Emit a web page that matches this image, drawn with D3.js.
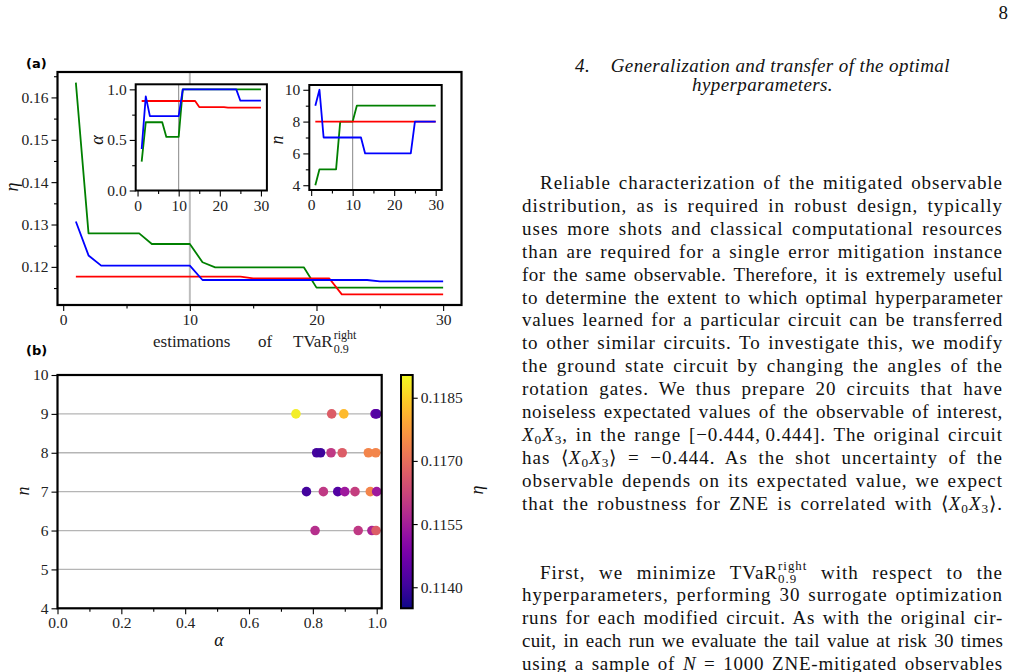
<!DOCTYPE html>
<html>
<head>
<meta charset="utf-8">
<script src="https://cdn.jsdelivr.net/npm/d3@7"></script>
<style>
body { margin: 0; background: #fff; width: 1017px; height: 672px; overflow: hidden; position: relative; font-family: "Liberation Serif", serif; }
svg { position: absolute; left: 0; top: 0; }
.ln { position: absolute; left: 522px; width: 481px; white-space: nowrap; text-align: justify; text-align-last: justify; font-size: 19px; line-height: 23px; color: #111; }
.hd { position: absolute; left: 522px; width: 481px; text-align: center; font-style: italic; font-size: 19px; line-height: 23px; color: #111; white-space: nowrap; letter-spacing: 0.4px; }
.ln sub { font-size: 0.7em; vertical-align: -0.25em; line-height: 0; }
.ss { display: inline-block; font-size: 0.68em; line-height: 1.0em; vertical-align: -0.32em; text-align: left; text-align-last: left; }
.ss span { display: block; }
</style>
</head>
<body>
<script>
// iterations of the optimisation
var runs = [1,2,3,4,5,6,7,8,9,10,11,12,13,14,15,16,17,18,19,20,21,22,23,24,25,26,27,28,29,30];

// best eta found so far, three runs
var etaGreen = [0.1635,0.1279,0.1279,0.1279,0.1279,0.1279,0.1254,0.1254,0.1254,0.1254,
                0.1211,0.1199,0.1199,0.1199,0.1199,0.1199,0.1199,0.1199,0.1199,0.1151,
                0.1151,0.1151,0.1151,0.1151,0.1151,0.1151,0.1151,0.1151,0.1151,0.1151];
var etaRed   = [0.1177,0.1177,0.1177,0.1177,0.1177,0.1177,0.1177,0.1177,0.1177,0.1177,
                0.1177,0.1177,0.1177,0.1177,0.1173,0.1173,0.1173,0.1173,0.1173,0.1173,
                0.1173,0.1135,0.1135,0.1135,0.1135,0.1135,0.1135,0.1135,0.1135,0.1135];
var etaBlue  = [0.1307,0.1227,0.1203,0.1203,0.1203,0.1203,0.1203,0.1203,0.1203,0.1203,
                0.1169,0.1169,0.1169,0.1169,0.1169,0.1169,0.1169,0.1169,0.1169,0.1169,
                0.1169,0.1169,0.1169,0.1169,0.1166,0.1166,0.1166,0.1166,0.1166,0.1166];

// alpha of the best point
var alphaGreen = [0.286,0.675,0.675,0.675,0.675,0.675,0.53,0.53,0.53,0.53,
                  1,1,1,1,1,1,1,1,1,1,1,1,1,1,1,1,1,1,1,1];
var alphaRed   = [0.885,0.885,0.885,0.885,0.885,0.885,0.885,0.885,0.885,0.885,
                  0.885,0.885,0.885,0.885,0.825,0.825,0.825,0.825,0.825,0.825,
                  0.825,0.82,0.82,0.82,0.82,0.82,0.82,0.82,0.82,0.82];
var alphaBlue  = [0.41,0.93,0.735,0.735,0.735,0.735,0.735,0.735,0.735,0.735,
                  1,1,1,1,1,1,1,1,1,1,1,1,1,1,0.888,0.888,0.888,0.888,0.888,0.888];

// n of the best point
var nGreen = [4,5,5,5,5,5,8,8,8,8,9,9,9,9,9,9,9,9,9,9,9,9,9,9,9,9,9,9,9,9];
var nRed   = [8,8,8,8,8,8,8,8,8,8,8,8,8,8,8,8,8,8,8,8,8,8,8,8,8,8,8,8,8,8];
var nBlue  = [9,10,7,7,7,7,7,7,7,7,7,7,6,6,6,6,6,6,6,6,6,6,6,6,8,8,8,8,8,8];

// panel (b): final points of the runs
var scAlpha = [0.747,0.859,0.897,0.995,1.0,
               0.812,0.824,0.857,0.892,0.974,0.997,
               0.780,0.833,0.878,0.900,0.932,0.980,1.0,
               0.807,0.942,0.985,0.998];
var scN     = [9,9,9,9,9,
               8,8,8,8,8,8,
               7,7,7,7,7,7,7,
               6,6,6,6];
var scEta   = [0.1189,0.1167,0.1182,0.1146,0.1143,
               0.1141,0.1140,0.1160,0.1167,0.1174,0.1174,
               0.1141,0.1160,0.1143,0.1154,0.1161,0.1174,0.1154,
               0.1158,0.1160,0.1156,0.1167];

// tick labels
var etaTicks = [0.12,0.13,0.14,0.15,0.16];
var etaMinor = [0.115,0.125,0.135,0.145,0.155,0.165];
var runTicks = [0,10,20,30];
var runMinor = [5,15,25];
var alphaInTicks = [0,0.5,1];
var nInTicks = [4,6,8,10];
var nInMinor = [5,7,9];
var bAlphaTicks = [0,0.2,0.4,0.6,0.8,1];
var bAlphaMinor = [0.1,0.3,0.5,0.7,0.9];
var bNTicks = [4,5,6,7,8,9,10];
var cbTicks = [0.114,0.1155,0.117,0.1185];

var serif = "Liberation Serif, serif";
var svg = d3.select("body").append("svg").attr("width", 1017).attr("height", 672);

function styleAxis(sel) {
  sel.select(".domain").remove();
  sel.selectAll("line").attr("stroke", "#000").attr("stroke-width", 1.1);
  sel.selectAll("text").attr("font-family", serif).attr("font-size", "15.5px").attr("fill", "#222");
}

function drawAxes(g, box, x, y, o) {
  g.append("g").attr("transform", "translate(0," + box.b + ")")
    .call(d3.axisBottom(x).tickValues(o.xt).tickFormat(o.xf).tickSize(6).tickPadding(3)).call(styleAxis);
  if (o.xm) g.append("g").attr("transform", "translate(0," + box.b + ")")
    .call(d3.axisBottom(x).tickValues(o.xm).tickFormat("").tickSize(3.5)).call(styleAxis);
  g.append("g").attr("transform", "translate(" + box.l + ",0)")
    .call(d3.axisLeft(y).tickValues(o.yt).tickFormat(o.yf).tickSize(6).tickPadding(3)).call(styleAxis);
  if (o.ym) g.append("g").attr("transform", "translate(" + box.l + ",0)")
    .call(d3.axisLeft(y).tickValues(o.ym).tickFormat("").tickSize(3.5)).call(styleAxis);
}

function drawFrame(g, box, w) {
  g.append("rect").attr("x", box.l).attr("y", box.t)
    .attr("width", box.r - box.l).attr("height", box.b - box.t)
    .attr("fill", "none").attr("stroke", "#000").attr("stroke-width", w);
}

function lineSeries(g, x, y, xs, ys, color) {
  var line = d3.line().x(function(d) { return x(d[0]); }).y(function(d) { return y(d[1]); });
  g.append("path").datum(d3.zip(xs, ys))
    .attr("fill", "none").attr("stroke", color).attr("stroke-width", 1.8)
    .attr("stroke-linejoin", "round").attr("d", line);
}

function rotLabel(g, x, y, txt, size) {
  g.append("text").attr("transform", "translate(" + x + "," + y + ") rotate(-90)")
    .attr("text-anchor", "middle").attr("dy", "0.35em")
    .attr("font-family", serif).attr("font-style", "italic").attr("font-size", size)
    .attr("fill", "#111").text(txt);
}

// ---------- panel (a) ----------
var boxA = {l: 57.5, r: 461.5, t: 72, b: 305};
var xA = d3.scaleLinear().domain([-0.45, 31.45]).range([boxA.l, boxA.r]);
var yA = d3.scaleLinear().domain([0.111, 0.166]).range([boxA.b, boxA.t]);
var gA = svg.append("g");

gA.append("line").attr("x1", xA(10)).attr("x2", xA(10)).attr("y1", boxA.t).attr("y2", boxA.b)
  .attr("stroke", "#bdbdbd").attr("stroke-width", 2);
lineSeries(gA, xA, yA, runs, etaGreen, "#008000");
lineSeries(gA, xA, yA, runs, etaRed, "#ff0000");
lineSeries(gA, xA, yA, runs, etaBlue, "#0000ff");
drawAxes(gA, boxA, xA, yA, {xt: runTicks, xf: d3.format("d"), xm: runMinor,
                            yt: etaTicks, yf: d3.format(".2f"), ym: etaMinor});
drawFrame(gA, boxA, 2.2);
rotLabel(gA, 12, 187, "η", "18px");

// x label: estimations of TVaR^right_0.9
var xl = gA.append("g").attr("font-family", serif).attr("fill", "#222");
xl.append("text").attr("x", 153).attr("y", 347).attr("font-size", "17px").text("estimations");
xl.append("text").attr("x", 258).attr("y", 347).attr("font-size", "17px").text("of");
var tv = xl.append("text").attr("x", 293).attr("y", 347).attr("font-size", "17px").text("TVaR");
var tvEnd = 293 + tv.node().getComputedTextLength() + 1;
xl.append("text").attr("x", tvEnd).attr("y", 339).attr("font-size", "12px").text("right");
xl.append("text").attr("x", tvEnd).attr("y", 353).attr("font-size", "12px").text("0.9");

svg.append("text").attr("x", 26).attr("y", 68).attr("font-family", "DejaVu Sans, sans-serif")
  .attr("font-weight", "bold").attr("font-size", "13px").text("(a)");

// ---------- inset alpha ----------
var boxI1 = {l: 135.7, r: 266.9, t: 84.3, b: 190.5};
var xI1 = d3.scaleLinear().domain([-0.45, 31.45]).range([boxI1.l, boxI1.r]);
var yI1 = d3.scaleLinear().domain([0, 1.05]).range([boxI1.b, boxI1.t]);
var gI1 = svg.append("g");
gI1.append("rect").attr("x", boxI1.l).attr("y", boxI1.t).attr("width", boxI1.r - boxI1.l)
  .attr("height", boxI1.b - boxI1.t).attr("fill", "#fff");
gI1.append("line").attr("x1", xI1(10)).attr("x2", xI1(10)).attr("y1", boxI1.t).attr("y2", boxI1.b)
  .attr("stroke", "#888").attr("stroke-width", 1);
lineSeries(gI1, xI1, yI1, runs, alphaGreen, "#008000");
lineSeries(gI1, xI1, yI1, runs, alphaRed, "#ff0000");
lineSeries(gI1, xI1, yI1, runs, alphaBlue, "#0000ff");
drawAxes(gI1, boxI1, xI1, yI1, {xt: runTicks, xf: d3.format("d"), xm: runMinor,
                                yt: alphaInTicks, yf: d3.format(".1f"), ym: [0.25, 0.75]});
drawFrame(gI1, boxI1, 2);
rotLabel(gI1, 97, 140, "α", "18px");

// ---------- inset n ----------
var boxI2 = {l: 309.3, r: 441.7, t: 85, b: 190};
var xI2 = d3.scaleLinear().domain([-0.45, 31.45]).range([boxI2.l, boxI2.r]);
var yI2 = d3.scaleLinear().domain([3.7, 10.3]).range([boxI2.b, boxI2.t]);
var gI2 = svg.append("g");
gI2.append("rect").attr("x", boxI2.l).attr("y", boxI2.t).attr("width", boxI2.r - boxI2.l)
  .attr("height", boxI2.b - boxI2.t).attr("fill", "#fff");
gI2.append("line").attr("x1", xI2(10)).attr("x2", xI2(10)).attr("y1", boxI2.t).attr("y2", boxI2.b)
  .attr("stroke", "#888").attr("stroke-width", 1);
lineSeries(gI2, xI2, yI2, runs, nGreen, "#008000");
lineSeries(gI2, xI2, yI2, runs, nRed, "#ff0000");
lineSeries(gI2, xI2, yI2, runs, nBlue, "#0000ff");
drawAxes(gI2, boxI2, xI2, yI2, {xt: runTicks, xf: d3.format("d"), xm: runMinor,
                                yt: nInTicks, yf: d3.format("d"), ym: nInMinor});
drawFrame(gI2, boxI2, 2);
rotLabel(gI2, 277, 140, "n", "18px");

// ---------- panel (b) ----------
var boxB = {l: 57.5, r: 381.7, t: 375, b: 608.3};
var xB = d3.scaleLinear().domain([0, 1.0157]).range([boxB.l, boxB.r]);
var yB = d3.scaleLinear().domain([4, 10]).range([boxB.b, boxB.t]);
var color = d3.scaleSequential(d3.interpolatePlasma).domain([0.1135, 0.11904]);
var gB = svg.append("g");

svg.append("clipPath").attr("id", "clipB").append("rect")
  .attr("x", boxB.l).attr("y", boxB.t).attr("width", boxB.r - boxB.l).attr("height", boxB.b - boxB.t);

gB.selectAll(".grid").data([5, 6, 7, 8, 9]).enter().append("line")
  .attr("x1", boxB.l).attr("x2", boxB.r)
  .attr("y1", function(d) { return yB(d); }).attr("y2", function(d) { return yB(d); })
  .attr("stroke", "#b5b5b5").attr("stroke-width", 1.3);

gB.append("g").attr("clip-path", "url(#clipB)").selectAll("circle")
  .data(d3.range(scAlpha.length)).enter().append("circle")
  .attr("cx", function(i) { return xB(scAlpha[i]); })
  .attr("cy", function(i) { return yB(scN[i]); })
  .attr("r", 4.8)
  .attr("fill", function(i) { return color(scEta[i]); });

drawAxes(gB, boxB, xB, yB, {xt: bAlphaTicks, xf: d3.format(".1f"), xm: bAlphaMinor,
                            yt: bNTicks, yf: d3.format("d")});
drawFrame(gB, boxB, 2.2);
rotLabel(gB, 23, 491, "n", "18px");
gB.append("text").attr("x", 219).attr("y", 646).attr("text-anchor", "middle")
  .attr("font-family", serif).attr("font-style", "italic").attr("font-size", "18px")
  .attr("fill", "#111").text("α");

svg.append("text").attr("x", 26).attr("y", 355).attr("font-family", "DejaVu Sans, sans-serif")
  .attr("font-weight", "bold").attr("font-size", "13px").text("(b)");

// colorbar
var boxC = {l: 401, r: 412.7, t: 375, b: 608.3};
var cScale = d3.scaleLinear().domain(color.domain()).range([boxC.b, boxC.t]);
var grad = svg.append("defs").append("linearGradient").attr("id", "plasmaGrad")
  .attr("x1", 0).attr("y1", 1).attr("x2", 0).attr("y2", 0);
grad.selectAll("stop").data(d3.range(0, 1.0001, 0.05)).enter().append("stop")
  .attr("offset", function(t) { return t; })
  .attr("stop-color", function(t) { return d3.interpolatePlasma(t); });
svg.append("rect").attr("x", boxC.l).attr("y", boxC.t).attr("width", boxC.r - boxC.l)
  .attr("height", boxC.b - boxC.t).attr("fill", "url(#plasmaGrad)");
svg.append("g").attr("transform", "translate(" + boxC.r + ",0)")
  .call(d3.axisRight(cScale).tickValues(cbTicks).tickFormat(d3.format(".4f")).tickSize(5).tickPadding(3))
  .call(styleAxis);
drawFrame(svg, boxC, 2);
rotLabel(svg, 477, 490, "η", "18px");

// ---------- text column ----------
var heading = ["4.&nbsp;&nbsp;&nbsp;&nbsp;Generalization and transfer of the optimal", "hyperparameters."];
var headBase = [72, 91];
var X03 = "<i>X</i><sub>0</sub><i>X</i><sub>3</sub>";
var tvar = "TVaR<span class=\"ss\"><span>right</span><span>0.9</span></span>";
var para1 = [
  "Reliable characterization of the mitigated observable",
  "distribution, as is required in robust design, typically",
  "uses more shots and classical computational resources",
  "than are required for a single error mitigation instance",
  "for the same observable. Therefore, it is extremely useful",
  "to determine the extent to which optimal hyperparameter",
  "values learned for a particular circuit can be transferred",
  "to other similar circuits. To investigate this, we modify",
  "the ground state circuit by changing the angles of the",
  "rotation gates. We thus prepare 20 circuits that have",
  "noiseless expectated values of the observable of interest,",
  X03 + ", in the range [\u22120.444,\u202F0.444]. The original circuit",
  "has \u27E8" + X03 + "\u27E9 = \u22120.444. As the shot uncertainty of the",
  "observable depends on its expectated value, we expect",
  "that the robustness for ZNE is correlated with \u27E8" + X03 + "\u27E9."
];
var para2 = [
  "First, we minimize " + tvar + " with respect to the",
  "hyperparameters, performing 30 surrogate optimization",
  "runs for each modified circuit. As with the original cir-",
  "cuit, in each run we evaluate the tail value at risk 30 times",
  "using a sample of <i>N</i> = 1000 ZNE-mitigated observables"
];
var lineGap = 22.9;

// baseline sits about 18px below the top of a 23px line box;
// letters are spread a little so the justified word gaps stay close to TeX's
function textLine(html, base, indent) {
  var w = indent ? 463 : 481;
  var d = d3.select("body").append("div").attr("class", "ln")
    .style("left", (1003 - w) + "px").style("width", w + "px")
    .style("top", (base - 18) + "px")
    .style("text-align-last", "left");
  var s = d.append("span").html(html);
  var natural = s.node().getBoundingClientRect().width;
  var txt = s.node().textContent;
  var gaps = txt.split(" ").length - 1;
  var ls = (w - natural - gaps * 2.2) / txt.length;
  ls = Math.max(0, Math.min(1.0, ls));
  d.style("letter-spacing", ls + "px").style("text-align-last", "justify");
}

heading.forEach(function(h, i) {
  d3.select("body").append("div").attr("class", "hd").html(h).style("top", (headBase[i] - 18) + "px");
});
para1.forEach(function(t, i) { textLine(t, 189 + i * lineGap, i === 0); });
para2.forEach(function(t, i) { textLine(t, 578 + i * lineGap, i === 0); });

svg.append("text").attr("x", 1008).attr("y", 19).attr("text-anchor", "end")
  .attr("font-family", serif).attr("font-size", "19px").attr("fill", "#111").text("8");
</script>
</body>
</html>
